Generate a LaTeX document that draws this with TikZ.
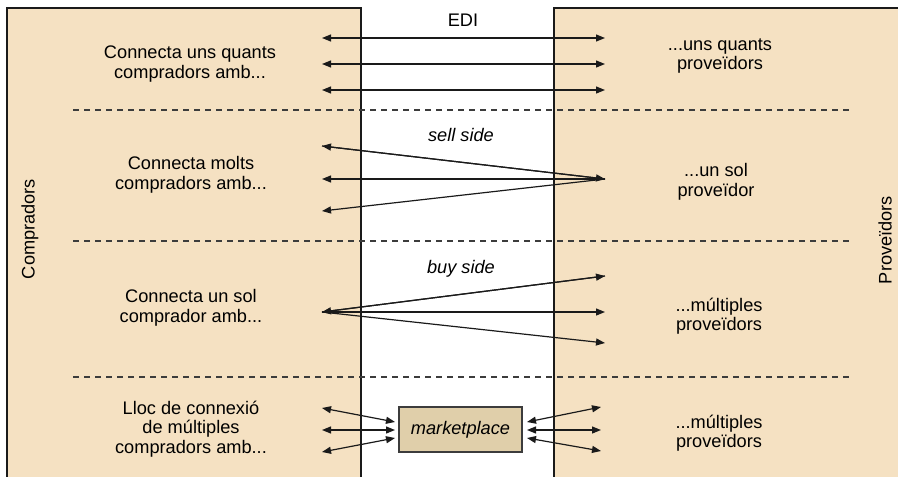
\documentclass[tikz,border=0pt]{standalone}
\usepackage{fontspec}
\setmainfont{Liberation Sans}
\usetikzlibrary{arrows.meta}
\definecolor{panel}{HTML}{F5E1C2}
\definecolor{mkt}{HTML}{E0CFAA}
\definecolor{ink}{HTML}{1A1A1A}
\tikzset{
  panelbox/.style={draw=ink, line width=1.3pt, fill=panel},
  lbl/.style={align=center, font=\fontsize{18.2}{19.5}\selectfont, text=black, inner sep=0pt},
  ital/.style={lbl, font=\fontsize{18.2}{19.5}\selectfont\itshape},
  sep/.style={draw=ink!85, line width=1.1pt, dash pattern=on 6pt off 5pt},
  link/.style={draw=ink, line width=1.2pt, arrows={-Triangle[length=9pt,width=7pt]}},
  dlink/.style={link, arrows={Triangle[length=9pt,width=7pt]-Triangle[length=9pt,width=7pt]}},
  mktbox/.style={draw=ink!85, line width=1.2pt, fill=mkt, minimum width=123pt, minimum height=45pt, inner sep=0pt, font=\fontsize{18.2}{19.5}\selectfont\itshape}
}
\begin{document}
\begin{tikzpicture}[x=1pt, y=-1pt]
\useasboundingbox (0,0) rectangle (898,477);
\begin{scope}
\clip (0,0) rectangle (898,477);
% buyer and supplier panels, running off the page edges
\path[panelbox] (7,8) rectangle (361,490);
\path[panelbox] (554,8) rectangle (910,490);
\end{scope}

% band separators
\foreach \yy in {110,241,377} \draw[sep] (73,\yy) -- (851,\yy);

% side titles
\node[lbl, rotate=90] (buyers) at (30,229) {Compradors};
\node[lbl, rotate=90] (suppliers) at (885,240) {Proveïdors};

% band 1: EDI
\node[lbl] (edi) at (463,20) {EDI};
\node[lbl] (b1) at (190,64) {Connecta uns quants\\compradors amb...};
\node[lbl] (s1) at (720,56) {...uns quants\\proveïdors};
\foreach \yy [count=\i] in {38,64,90} {
  \coordinate (e\i l) at (322,\yy);
  \coordinate (e\i r) at (605,\yy);
  \draw[dlink] (e\i l) -- (e\i r);
}

% band 2: sell side
\node[ital] (sell) at (461,135) {sell side};
\node[lbl] (b2) at (191,175) {Connecta molts\\compradors amb...};
\node[lbl] (s2) at (716,182) {...un sol\\proveïdor};
\coordinate (sv) at (605,179);
\coordinate (sa) at (322,146);
\coordinate (sb) at (322,179);
\coordinate (sc) at (322,211);
\draw[link] (sv) -- (sa);
\draw[link] (sv) -- (sb);
\draw[link] (sv) -- (sc);
\draw[link] (sa) -- (sv);

% band 3: buy side
\node[ital] (buy) at (461,269) {buy side};
\node[lbl] (b3) at (191,308) {Connecta un sol\\comprador amb...};
\node[lbl] (s3) at (719,316) {...múltiples\\proveïdors};
\coordinate (bv) at (322,312);
\coordinate (ba) at (605,276);
\coordinate (bb) at (605,312);
\coordinate (bc) at (605,343);
\draw[link] (bv) -- (ba);
\draw[link] (bv) -- (bb);
\draw[link] (bv) -- (bc);
\draw[link] (ba) -- (bv);

% band 4: marketplace
\node[lbl] (b4) at (191,429) {Lloc de connexió\\de múltiples\\compradors amb...};
\node[lbl] (s4) at (719,433) {...múltiples\\proveïdors};
\node[mktbox] (mk) at (460.5,429.5) {marketplace};
\coordinate (ml1) at (322,408);
\coordinate (ml2) at (322,430);
\coordinate (ml3) at (322,452);
\coordinate (mi1) at (395,422);
\coordinate (mi2) at (395,430);
\coordinate (mi3) at (395,438);
\coordinate (mr1) at (601,407);
\coordinate (mr2) at (601,430);
\coordinate (mr3) at (601,451);
\coordinate (mo1) at (527,422);
\coordinate (mo2) at (527,430);
\coordinate (mo3) at (527,438);
\foreach \i in {1,2,3} {
  \draw[dlink] (ml\i) -- (mi\i);
  \draw[dlink] (mo\i) -- (mr\i);
}
\end{tikzpicture}
\end{document}
